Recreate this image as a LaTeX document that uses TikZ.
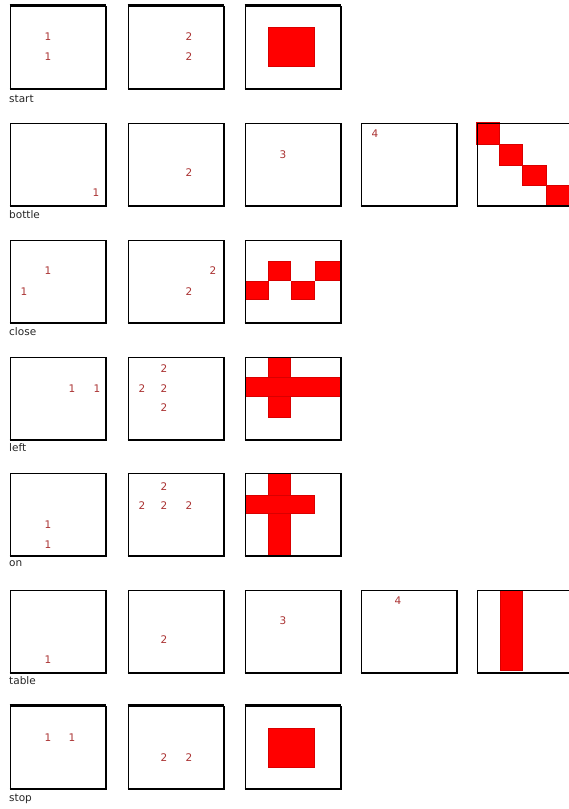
\documentclass[tikz,border=0pt]{standalone}
\usepackage{fontspec}
\setmainfont{DejaVu Sans}
\begin{document}
\begin{tikzpicture}[x=1pt,y=-1pt,
  cell/.style={draw=black,line width=1.4pt,minimum width=95pt,minimum height=82pt,inner sep=0pt,anchor=north west},
  num/.style={text=numred,font=\fontsize{10.5}{12}\selectfont,inner sep=0pt},
  lab/.style={font=\fontsize{10.5}{12}\selectfont,anchor=west,inner sep=0pt,text=black!85},
  blk/.style={fill=red,draw=red!85!black,line width=0.4pt},
  edge/.style={line width=2.4pt,line cap=butt}]
\definecolor{numred}{RGB}{170,50,50}
\useasboundingbox (0,0) rectangle (569,809);
\clip (0,0) rectangle (569,809);
% row 1 start
\node[cell] (a1) at (9.5,5.5) {};
\node[cell] (a2) at (127.5,5.5) {};
\node[cell] (a3) at (244.5,5.5) {};
\node[num] (a1n1) at (48,37) {1};
\node[num] (a1n2) at (48,57) {1};
\node[num] (a2n1) at (189,37) {2};
\node[num] (a2n2) at (189,57) {2};
\draw[blk] (268,27) rectangle (314,66);
\node[lab] (la) at (9,99) {start};
% row 2 bottle
\node[cell] (b1) at (9.5,122.5) {};
\node[cell] (b2) at (127.5,122.5) {};
\node[cell] (b3) at (244.5,122.5) {};
\node[cell] (b4) at (360.5,122.5) {};
\draw[blk] (476,122) rectangle (499,144);
\draw[blk] (499,144) rectangle (522,165);
\draw[blk] (522,165) rectangle (546,185);
\draw[blk] (546,185) rectangle (570,205);
\node[cell] (b5) at (476.5,122.5) {};
\node[num] (b1n) at (96,193) {1};
\node[num] (b2n) at (189,173) {2};
\node[num] (b3n) at (283,155) {3};
\node[num] (b4n) at (375,134) {4};
\node[lab] (lb) at (9,215) {bottle};
% row 3 close
\node[cell] (c1) at (9.5,239.5) {};
\node[cell] (c2) at (127.5,239.5) {};
\draw[blk] (245,281) rectangle (268,299);
\draw[blk] (268,261) rectangle (290,280);
\draw[blk] (291,281) rectangle (314,299);
\draw[blk] (315,261) rectangle (340,280);
\node[cell] (c3) at (244.5,239.5) {};
\node[num] (c1n1) at (48,271) {1};
\node[num] (c1n2) at (24,292) {1};
\node[num] (c2n1) at (213,271) {2};
\node[num] (c2n2) at (189,292) {2};
\node[lab] (lc) at (9,332) {close};
% row 4 left
\node[cell] (d1) at (9.5,356.5) {};
\node[cell] (d2) at (127.5,356.5) {};
\draw[blk] (268,357) rectangle (290,417);
\draw[blk] (245,377) rectangle (340,396);
\node[cell] (d3) at (244.5,356.5) {};
\node[num] (d1n1) at (72,389) {1};
\node[num] (d1n2) at (97,389) {1};
\node[num] (d2n1) at (164,369) {2};
\node[num] (d2n2) at (142,389) {2};
\node[num] (d2n3) at (164,389) {2};
\node[num] (d2n4) at (164,408) {2};
\node[lab] (ld) at (9,448) {left};
% row 5 on
\node[cell] (e1) at (9.5,472.5) {};
\node[cell] (e2) at (127.5,472.5) {};
\draw[blk] (268,473) rectangle (290,555);
\draw[blk] (245,495) rectangle (314,513);
\node[cell] (e3) at (244.5,472.5) {};
\node[num] (e1n1) at (48,525) {1};
\node[num] (e1n2) at (48,545) {1};
\node[num] (e2n1) at (164,487) {2};
\node[num] (e2n2) at (142,506) {2};
\node[num] (e2n3) at (164,506) {2};
\node[num] (e2n4) at (189,506) {2};
\node[lab] (le) at (9,564) {on};
% row 6 table
\node[cell] (f1) at (9.5,589.5) {};
\node[cell] (f2) at (127.5,589.5) {};
\node[cell] (f3) at (244.5,589.5) {};
\node[cell] (f4) at (360.5,589.5) {};
\draw[blk] (500,590) rectangle (522,670);
\node[cell] (f5) at (476.5,589.5) {};
\node[num] (f1n) at (48,660) {1};
\node[num] (f2n) at (164,640) {2};
\node[num] (f3n) at (283,621) {3};
\node[num] (f4n) at (398,601) {4};
\node[lab] (lf) at (9,681) {table};
% row 7 stop
\node[cell] (g1) at (9.5,705.5) {};
\node[cell] (g2) at (127.5,705.5) {};
\node[cell] (g3) at (244.5,705.5) {};
\node[num] (g1n1) at (48,738) {1};
\node[num] (g1n2) at (72,738) {1};
\node[num] (g2n1) at (164,758) {2};
\node[num] (g2n2) at (189,758) {2};
\draw[blk] (268,728) rectangle (314,767);
\node[lab] (lg) at (9,799) {stop};
% heavier right and bottom edges
\foreach \c in {a1,a2,a3,b1,b2,b3,b4,b5,c1,c2,c3,d1,d2,d3,e1,e2,e3,f1,f2,f3,f4,f5,g1,g2,g3}
  \draw[edge] (\c.south west) -- (\c.south east) -- (\c.north east);
\foreach \c in {a1,a2,a3,g1,g2,g3}
  \draw[edge] (\c.north west) -- (\c.north east);
\end{tikzpicture}
\end{document}
